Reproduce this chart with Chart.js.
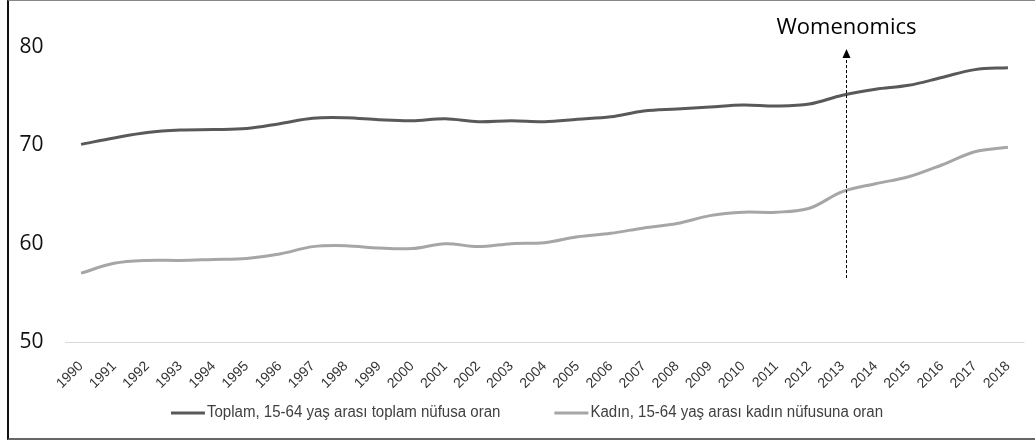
<!DOCTYPE html>
<html>
<head>
<meta charset="utf-8">
<script src="https://cdn.jsdelivr.net/npm/chart.js@4.4.1/dist/chart.umd.min.js"></script>
<style>
	html, body { margin: 0; padding: 0; background: #fff; }
	#wrap { position: relative; width: 1035px; height: 443px; }
	#frame {
		position: absolute; left: 7px; top: 0; width: 1028px; height: 440px;
		border-left: 2px solid #111; border-top: 1px solid #888; border-bottom: 2px solid #666;
		box-sizing: border-box; pointer-events: none;
	}
</style>
</head>
<body>
<div id="wrap">
	<canvas id="chart" width="1035" height="443"></canvas>
	<div id="frame"></div>
</div>
<script>
// years on the x axis
const years = ['1990', '1991', '1992', '1993', '1994', '1995', '1996', '1997', '1998', '1999',
	'2000', '2001', '2002', '2003', '2004', '2005', '2006', '2007', '2008', '2009',
	'2010', '2011', '2012', '2013', '2014', '2015', '2016', '2017', '2018'];

// Toplam, 15-64 yaş arası toplam nüfusa oran
const toplam = [70.1, 70.75, 71.3, 71.55, 71.6, 71.7, 72.2, 72.75, 72.8, 72.6,
	72.5, 72.7, 72.4, 72.5, 72.4, 72.65, 72.9, 73.5, 73.7, 73.9,
	74.1, 74.0, 74.2, 75.1, 75.7, 76.1, 76.9, 77.7, 77.9];

// Kadın, 15-64 yaş arası kadın nüfusuna oran
const kadin = [57.0, 58.0, 58.3, 58.3, 58.4, 58.5, 58.95, 59.7, 59.8, 59.55,
	59.5, 60.0, 59.7, 60.0, 60.1, 60.7, 61.05, 61.6, 62.05, 62.85,
	63.2, 63.2, 63.6, 65.3, 66.1, 66.8, 68.0, 69.35, 69.8];

const seriesNames = ['Toplam, 15-64 yaş arası toplam nüfusa oran', 'Kadın, 15-64 yaş arası kadın nüfusuna oran'];
const yTicks = [50, 60, 70, 80];

// annotation
const noteText = 'Womenomics';
const noteYear = '2013';
const noteFrom = 56.5, noteTo = 79.8;

const sans = "'Liberation Sans', Arial, sans-serif";

const extras = {
	id: 'extras',
	afterDatasetsDraw(chart) {
		const { ctx, scales: { x, y } } = chart;
		// dashed arrow + label
		const px = Math.round(x.getPixelForValue(years.indexOf(noteYear))) + 4.5;
		const yb = y.getPixelForValue(noteFrom), yt = y.getPixelForValue(noteTo);
		ctx.save();
		ctx.strokeStyle = '#000';
		ctx.lineWidth = 1;
		ctx.setLineDash([3, 2]);
		ctx.beginPath();
		ctx.moveTo(px, yb);
		ctx.lineTo(px, yt + 8);
		ctx.stroke();
		ctx.setLineDash([]);
		ctx.fillStyle = '#000';
		ctx.beginPath();
		ctx.moveTo(px, yt);
		ctx.lineTo(px - 4, yt + 9);
		ctx.lineTo(px + 4, yt + 9);
		ctx.closePath();
		ctx.fill();
		ctx.font = "22px 'Open Sans', 'Noto Sans', sans-serif";
		ctx.textAlign = 'center';
		ctx.textBaseline = 'alphabetic';
		ctx.fillText(noteText, px, yt - 15);

		// legend (Calibri-like text: squeeze Liberation Sans a little)
		ctx.font = '16px ' + sans;
		ctx.textBaseline = 'middle';
		ctx.textAlign = 'left';
		const squeeze = 0.94;
		const sample = 34, gap = 2, itemGap = 54;
		const widths = chart.data.datasets.map(d => ctx.measureText(d.label).width * squeeze);
		const total = widths.reduce((a, w) => a + sample + gap + w, 0) + itemGap * (widths.length - 1);
		let lx = 527 - total / 2;
		const ly = 413;
		chart.data.datasets.forEach((d, i) => {
			ctx.strokeStyle = d.borderColor;
			ctx.lineWidth = 3;
			ctx.beginPath();
			ctx.moveTo(lx, ly);
			ctx.lineTo(lx + sample, ly);
			ctx.stroke();
			ctx.fillStyle = '#404040';
			ctx.save();
			ctx.translate(lx + sample + gap, ly);
			ctx.scale(squeeze, 1);
			ctx.fillText(d.label, 0, 0);
			ctx.restore();
			lx += sample + gap + widths[i] + itemGap;
		});
		ctx.restore();
	}
};

new Chart(document.getElementById('chart'), {
	type: 'line',
	plugins: [extras],
	data: {
		labels: years,
		datasets: [{
			label: seriesNames[0],
			data: toplam,
			borderColor: '#595959',
			borderWidth: 3,
			pointRadius: 0,
			tension: 0.35
		}, {
			label: seriesNames[1],
			data: kadin,
			borderColor: '#a6a6a6',
			borderWidth: 3,
			pointRadius: 0,
			tension: 0.35
		}]
	},
	options: {
		responsive: false,
		animation: false,
		devicePixelRatio: 1,
		layout: { padding: { top: 47, right: 10.5, left: 0, bottom: 0 } },
		plugins: {
			legend: { display: false },
			tooltip: { enabled: false }
		},
		scales: {
			x: {
				offset: true,
				grid: { display: false },
				border: { display: false },
				afterFit: function(scale) { scale.height = 101; },
				ticks: {
					minRotation: 45,
					maxRotation: 45,
					autoSkip: false,
					padding: 8,
					color: '#333',
					font: { family: sans, size: 14 }
				}
			},
			y: {
				min: yTicks[0],
				max: yTicks[yTicks.length - 1],
				afterFit: function(scale) { scale.width = 64.5; },
				afterBuildTicks: function(scale) { scale.ticks = yTicks.map(v => ({ value: v })); },
				border: { display: false },
				grid: {
					drawTicks: false,
					color: ctx => ctx.tick && ctx.tick.value === yTicks[0] ? '#d9d9d9' : 'rgba(0,0,0,0)'
				},
				ticks: {
					padding: 21,
					color: '#111',
					font: { family: "'Open Sans', 'Noto Sans', sans-serif", size: 21 }
				}
			}
		}
	}
});
</script>
</body>
</html>
